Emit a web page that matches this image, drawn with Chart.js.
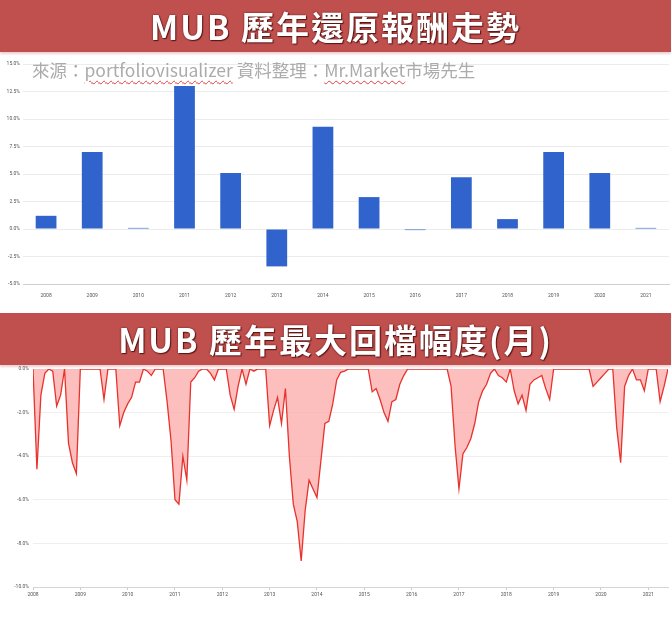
<!DOCTYPE html>
<html>
<head>
<meta charset="utf-8">
<script src="https://cdn.jsdelivr.net/npm/chart.js@4"></script>
<style>
  body { margin: 0; background: #fff; width: 671px; height: 630px; overflow: hidden; position: relative;
         font-family: "Noto Sans CJK TC", "Noto Sans", sans-serif; }
  .banner { position: absolute; left: 0; width: 671px; height: 52px; background: #C0504D;
            color: #fff; font-weight: bold; font-size: 33px; letter-spacing: 2px;
            display: flex; align-items: center; justify-content: center; z-index: 3;
            text-shadow: 0 0 2px #5a1414, 1px 1px 1px #5a1414; box-shadow: 0 2px 2px rgba(200,120,120,0.35); }
  .sub { position: absolute; left: 32px; top: 57px; font-size: 17.5px; color: #ababab; z-index: 2; white-space: nowrap; }
  .sub u { text-decoration: underline wavy #e04040; text-decoration-thickness: 1px; text-underline-offset: 3px; }
  canvas { position: absolute; left: 0; }
</style>
</head>
<body>
<div class="banner" style="top:0">MUB 歷年還原報酬走勢</div>
<div class="sub">來源：<u>portfoliovisualizer</u> 資料整理：<u>Mr.Market</u>市場先生</div>
<canvas id="returnChart" width="671" height="242" style="top:56px"></canvas>
<div class="banner" style="top:313px">MUB 歷年最大回檔幅度(月)</div>
<canvas id="ddChart" width="671" height="250" style="top:360px"></canvas>
<script>
// annual total return (%)
const years = ['2008','2009','2010','2011','2012','2013','2014','2015','2016','2017','2018','2019','2020','2021'];
const annualReturns = [1.2, 7.0, 0.1, 13.0, 5.1, -3.4, 9.3, 2.9, -0.1, 4.7, 0.9, 7.0, 5.1, 0.1];

// monthly drawdown (%), starting 2008-01
const ddStart = { year: 2008, month: 0 };
const drawdowns = [
  0, -4.6, -1.2, -0.2, 0, -0.1, -1.7, -1.2, 0, -3.4, -4.3, -4.8,        // 2008
  0, 0, 0, 0, 0, 0, -1.4, 0, 0, 0, -2.6, -2.0,                          // 2009
  -1.6, -1.3, -0.6, -0.6, 0, -0.1, -0.3, 0, 0, 0, -1.5, -3.3,           // 2010
  -6.0, -6.2, -4.0, -5.1, -0.6, -0.4, -0.1, 0, 0, -0.2, -0.5, 0,        // 2011
  0, 0, -1.2, -1.85, -0.8, 0, -0.7, 0, -0.1, 0, 0, 0,                   // 2012
  -2.6, -1.9, -1.3, -2.5, -0.9, -4.0, -6.2, -7.0, -8.8, -6.5, -5.1, -5.5, // 2013
  -5.9, -4.2, -2.5, -2.4, -1.6, -0.5, -0.15, -0.1, 0, 0, 0, 0,          // 2014
  0, 0, -1.05, -0.9, -1.4, -2.0, -2.4, -1.5, -1.4, -0.7, -0.3, 0,       // 2015
  0, 0, 0, 0, 0, 0, 0, 0, 0, 0, -0.8, -3.5,                             // 2016
  -5.5, -3.9, -3.6, -3.2, -2.5, -1.5, -1.0, -0.7, -0.2, 0, -0.3, -0.4,  // 2017
  -0.6, 0, -1.0, -1.6, -1.2, -1.9, -0.7, -0.5, -0.4, -0.3, -0.9, -1.4,  // 2018
  0, 0, 0, 0, 0, 0, 0, 0, 0, 0, -0.8, -0.6,                             // 2019
  -0.4, -0.2, 0, 0, -2.7, -4.3, -0.8, -0.3, 0, -0.5, -0.5, -1.0,        // 2020
  0, 0, 0, -1.5, -0.8, 0                                                // 2021
];

const tickFont = { size: 5, family: 'Roboto' };
const tickColor = '#555';
const pct = v => v.toFixed(1) + '%';

new Chart(document.getElementById('returnChart'), {
  type: 'bar',
  data: {
    labels: years,
    datasets: [{
      data: annualReturns,
      backgroundColor: '#3064CC',
      barPercentage: 0.9,
      categoryPercentage: 0.5
    }]
  },
  options: {
    responsive: false,
    animation: false,
    layout: { padding: { top: 8, right: 2, left: 0, bottom: 0 } },
    plugins: { legend: { display: false }, tooltip: { enabled: false } },
    scales: {
      x: {
        grid: { display: false },
        border: { color: '#cfcfcf' },
        ticks: { font: tickFont, color: tickColor, padding: 1, maxRotation: 0, autoSkip: false },
        afterFit: s => { s.height = 14; }
      },
      y: {
        min: -5, max: 15,
        grid: { color: '#ececec', drawTicks: false },
        border: { display: false },
        ticks: { stepSize: 2.5, font: tickFont, color: tickColor, padding: 3, callback: pct },
        afterFit: s => { s.width = 23; }
      }
    }
  }
});

const ddPoints = drawdowns.map((v, i) => ({ x: ddStart.year + (ddStart.month + i) / 12, y: v }));

new Chart(document.getElementById('ddChart'), {
  type: 'line',
  data: {
    datasets: [{
      data: ddPoints,
      borderColor: '#E8322C',
      borderWidth: 1.3,
      backgroundColor: 'rgba(252,165,165,0.72)',
      fill: 'origin',
      pointRadius: 0,
      tension: 0
    }]
  },
  options: {
    responsive: false,
    animation: false,
    layout: { padding: { top: 9, right: 3, left: 0, bottom: 9 } },
    plugins: { legend: { display: false }, tooltip: { enabled: false } },
    scales: {
      x: {
        type: 'linear',
        min: 2008, max: ddPoints[ddPoints.length - 1].x,
        grid: { drawOnChartArea: false, tickLength: 3, color: '#ccc' },
        border: { color: '#d5d5d5' },
        ticks: { stepSize: 1, includeBounds: false, font: tickFont, color: tickColor, padding: 2,
                 maxRotation: 0, autoSkip: false, callback: v => String(v) },
        afterFit: s => { s.height = 14; }
      },
      y: {
        min: -10, max: 0,
        grid: { color: '#efefef', drawTicks: false },
        border: { display: false },
        ticks: { stepSize: 2, font: tickFont, color: tickColor, padding: 4, callback: pct },
        afterFit: s => { s.width = 33; }
      }
    }
  }
});
</script>
</body>
</html>
